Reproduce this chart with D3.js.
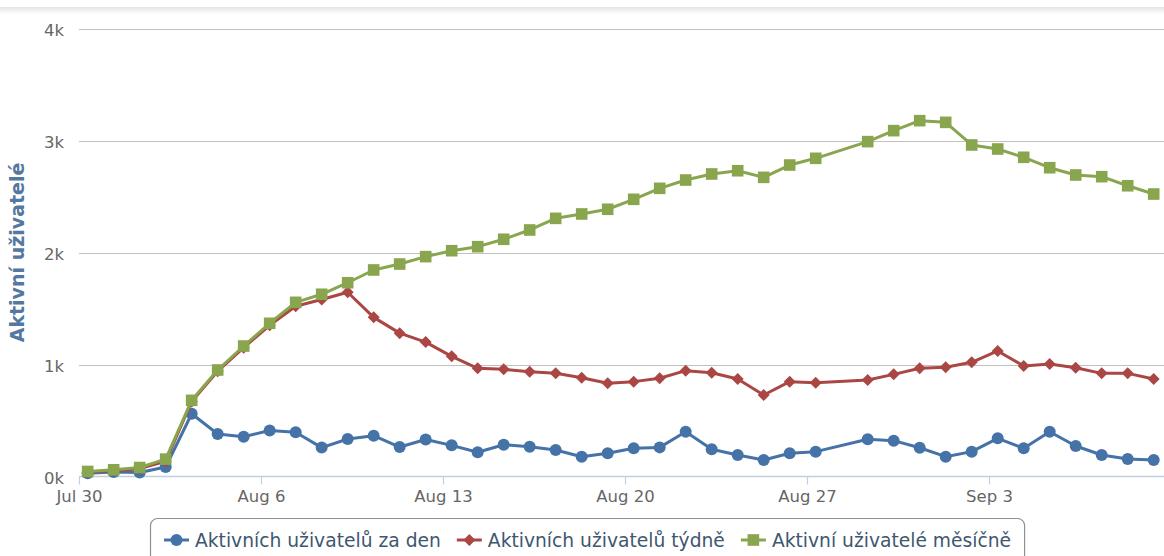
<!DOCTYPE html>
<html>
<head>
<meta charset="utf-8">
<script src="https://cdn.jsdelivr.net/npm/d3@7"></script>
<style>
  html, body { margin: 0; padding: 0; background: #fff; }
  svg { display: block; font-family: "DejaVu Sans", Verdana, sans-serif; }
</style>
</head>
<body>
<svg id="chart" width="1164" height="556"></svg>
<script>
// Days reported (Pacific midnight, i.e. 08:00 UTC); Aug 28 has no record.
const dates = [
  "2012-07-30","2012-07-31","2012-08-01","2012-08-02","2012-08-03","2012-08-04","2012-08-05",
  "2012-08-06","2012-08-07","2012-08-08","2012-08-09","2012-08-10","2012-08-11","2012-08-12",
  "2012-08-13","2012-08-14","2012-08-15","2012-08-16","2012-08-17","2012-08-18","2012-08-19",
  "2012-08-20","2012-08-21","2012-08-22","2012-08-23","2012-08-24","2012-08-25","2012-08-26",
  "2012-08-27","2012-08-29","2012-08-30","2012-08-31","2012-09-01","2012-09-02",
  "2012-09-03","2012-09-04","2012-09-05","2012-09-06","2012-09-07","2012-09-08","2012-09-09"
];

const dailyUsers = [
  30, 40, 35, 85, 560, 380, 355,
  410, 395, 258, 335, 364, 263, 330,
  278, 216, 284, 266, 237, 177, 207,
  252, 260, 400, 243, 192, 147, 207,
  222, 332, 320, 257, 177, 222,
  341, 252, 400, 272, 192, 156, 147
];

const weeklyUsers = [
  40, 52, 70, 135, 670, 940, 1150,
  1350, 1520, 1580, 1645, 1421, 1280, 1200,
  1073, 966, 957, 936, 921, 882, 832,
  847, 877, 945, 927, 871, 728, 847,
  838, 862, 912, 966, 975, 1020,
  1121, 987, 1004, 971, 921, 921, 871
];

const monthlyUsers = [
  45, 60, 80, 155, 680, 951, 1165,
  1368, 1555, 1627, 1730, 1844, 1897, 1963,
  2016, 2052, 2118, 2201, 2305, 2344, 2386,
  2475, 2573, 2647, 2701, 2730, 2671, 2781,
  2841, 2990, 3088, 3177, 3162, 2960,
  2924, 2850, 2757, 2692, 2677, 2596, 2522
];

const seriesNames = [
  "Aktivních uživatelů za den",
  "Aktivních uživatelů týdně",
  "Aktivní uživatelé měsíčně"
];
const seriesColors = ["#4572A7", "#AA4643", "#89A54E"];
const seriesSymbols = ["circle", "diamond", "square"];
const yTicks = [0, 1000, 2000, 3000, 4000];
const yTitle = "Aktivní uživatelé";

const svg = d3.select("#chart");
const W = 1164, H = 556;
const plot = { left: 79, right: 1164, top: 28.5, bottom: 476.5 };

const times = dates.map(d => new Date(d + "T08:00:00Z"));
const x = d3.scaleUtc()
  .domain([new Date("2012-07-30T00:00:00Z"), new Date("2012-09-09T17:30:00Z")])
  .range([plot.left, plot.right]);
const y = d3.scaleLinear().domain([0, 4000]).range([plot.bottom, plot.top]);

// thin shaded strip along the top of the frame
const defs = svg.append("defs");
const grad = defs.append("linearGradient").attr("id", "topShade")
  .attr("x1", 0).attr("y1", 0).attr("x2", 0).attr("y2", 1);
grad.append("stop").attr("offset", "0%").attr("stop-color", "#e4e4e4");
grad.append("stop").attr("offset", "100%").attr("stop-color", "#ffffff");
svg.append("rect").attr("x", 0).attr("y", 7).attr("width", W).attr("height", 7)
  .attr("fill", "url(#topShade)");

// horizontal grid lines
svg.append("g").selectAll("line").data(yTicks.filter(v => v > 0)).join("line")
  .attr("x1", plot.left).attr("x2", plot.right)
  .attr("y1", d => Math.round(y(d)) + 0.5).attr("y2", d => Math.round(y(d)) + 0.5)
  .attr("stroke", "#c0c0c0").attr("stroke-width", 1.2);

// y axis labels
svg.append("g").selectAll("text").data(yTicks).join("text")
  .attr("x", 64).attr("y", d => y(d) + 7)
  .attr("text-anchor", "end")
  .attr("font-size", 16.5).attr("fill", "#666")
  .text(d => (d / 1000) + "k");

// y axis title
svg.append("text")
  .attr("transform", `translate(24,${(plot.top + plot.bottom) / 2}) rotate(-90)`)
  .attr("text-anchor", "middle")
  .attr("font-size", 19).attr("font-weight", "bold").attr("fill", "#5478a0")
  .text(yTitle);

// x axis
const xAxis = d3.axisBottom(x)
  .ticks(d3.utcMonday.every(1))
  .tickFormat(d3.utcFormat("%b %-d"))
  .tickSize(8).tickPadding(6);
const gx = svg.append("g").attr("transform", `translate(0,${plot.bottom})`).call(xAxis);
gx.select(".domain").remove();
gx.selectAll(".tick line").attr("stroke", "#C0D0E0").attr("stroke-width", 1.2);
gx.selectAll(".tick text").attr("font-size", 16.5).attr("fill", "#666")
  .attr("font-family", "DejaVu Sans, Verdana, sans-serif");
svg.append("line")
  .attr("x1", plot.left).attr("x2", plot.right)
  .attr("y1", plot.bottom).attr("y2", plot.bottom)
  .attr("stroke", "#C0D0E0").attr("stroke-width", 1.5);

// marker shapes
function marker(sel, kind, color) {
  if (kind === "circle") {
    sel.append("circle").attr("r", 6).attr("fill", color);
  } else if (kind === "diamond") {
    sel.append("path").attr("d", "M0,-6L6,0L0,6L-6,0Z").attr("fill", color);
  } else {
    sel.append("rect").attr("x", -5.8).attr("y", -5.8).attr("width", 11.6).attr("height", 11.6)
      .attr("fill", color);
  }
}

const seriesValues = [dailyUsers, weeklyUsers, monthlyUsers];
const line = d3.line().x(d => x(d.t)).y(d => y(d.v));

seriesValues.forEach((vals, si) => {
  const pts = vals.map((v, i) => ({ t: times[i], v }));
  const g = svg.append("g");
  g.append("path").datum(pts).attr("d", line)
    .attr("fill", "none").attr("stroke", seriesColors[si])
    .attr("stroke-width", 3).attr("stroke-linejoin", "round").attr("stroke-linecap", "round");
  g.selectAll("g.pt").data(pts).join("g").attr("class", "pt")
    .attr("transform", d => `translate(${x(d.t)},${y(d.v)})`)
    .each(function () { marker(d3.select(this), seriesSymbols[si], seriesColors[si]); });
});

// legend
const legend = svg.append("g");
const legendBox = legend.append("rect");
const items = legend.selectAll("g.item").data(seriesNames).join("g").attr("class", "item");
const symW = 25, symPad = 6, itemGap = 16, padX = 14;
const legendY = 540;
let cx = 150 + padX;
items.each(function (name, i) {
  const g = d3.select(this).attr("transform", `translate(${cx},${legendY})`);
  g.append("line").attr("x1", 0).attr("x2", symW).attr("y1", 0).attr("y2", 0)
    .attr("stroke", seriesColors[i]).attr("stroke-width", 3);
  const m = g.append("g").attr("transform", `translate(${symW / 2},0)`);
  marker(m, seriesSymbols[i], seriesColors[i]);
  const t = g.append("text").attr("x", symW + symPad).attr("y", 6.5)
    .attr("font-size", 18.7).attr("fill", "#3E576F").text(name);
  cx += symW + symPad + t.node().getComputedTextLength() + itemGap;
});
legendBox.attr("x", 150.5).attr("y", 518.5)
  .attr("width", cx - itemGap + padX - 150 - 1).attr("height", 50)
  .attr("rx", 7).attr("ry", 7)
  .attr("fill", "#fff").attr("stroke", "#909090").attr("stroke-width", 1.2);
</script>
</body>
</html>
